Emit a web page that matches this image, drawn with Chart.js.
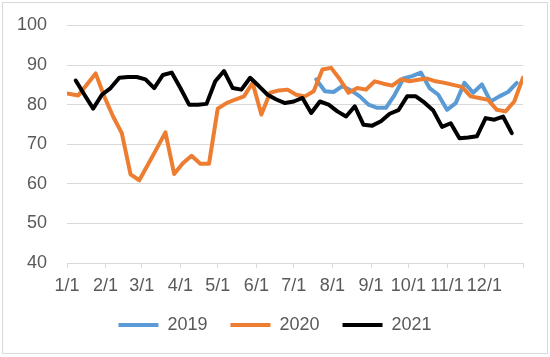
<!DOCTYPE html>
<html>
<head>
<meta charset="utf-8">
<script src="https://cdn.jsdelivr.net/npm/chart.js@4/dist/chart.umd.min.js"></script>
<style>
  html, body { margin: 0; padding: 0; background: #ffffff; }
  #wrap { position: relative; width: 550px; height: 357px; }
  #c { position: absolute; left: 0; top: 0; }
  #frame { position: absolute; left: 2px; top: 2px; width: 544px; height: 350px; border: 1px solid #d9d9d9; pointer-events: none; }
</style>
</head>
<body>
<div id="wrap">
  <canvas id="c" width="550" height="357"></canvas>
  <div id="frame"></div>
</div>
<script>
// Month tick positions (day of year, leap-year date axis) and their labels
const monthStartDays = [0, 31, 60, 91, 121, 152, 182, 213, 244, 274, 305, 335, 366];
const monthLabels = ['1/1', '2/1', '3/1', '4/1', '5/1', '6/1', '7/1', '8/1', '9/1', '10/1', '11/1', '12/1'];

// 2019 series (weekly, from late July)
const days2019 = [200, 207, 214, 221, 228, 235, 242, 249, 256, 263, 270, 277, 284, 291, 298, 305, 312, 319, 326, 333, 340, 347, 354, 361];
const values2019 = [86.4, 83.4, 83.2, 84.7, 83.6, 82.1, 80.0, 79.2, 79.2, 82.5, 86.6, 87.2, 88.1, 84.2, 82.5, 78.7, 80.4, 85.5, 83.0, 85.1, 80.8, 82.1, 83.2, 85.5];

// 2020 series (weekly)
const days2020 = [0, 9, 16, 23, 30, 37, 44, 51, 58, 65, 72, 79, 86, 93, 100, 107, 114, 121, 128, 135, 142, 149, 156, 163, 170, 177, 184, 191, 198, 205, 212, 219, 226, 233, 240, 247, 254, 261, 268, 275, 282, 289, 296, 303, 310, 317, 324, 331, 338, 345, 352, 359, 366];
const values2020 = [82.8, 82.3, 85.1, 87.9, 82.0, 77.0, 72.8, 62.4, 60.9, 64.9, 68.9, 73.0, 62.5, 65.2, 67.1, 65.1, 65.1, 79.0, 80.4, 81.3, 82.1, 85.5, 77.5, 83.0, 83.6, 83.8, 82.5, 82.1, 83.4, 88.9, 89.3, 86.4, 83.0, 84.2, 83.8, 85.9, 85.3, 84.8, 86.4, 85.9, 86.3, 86.6, 85.9, 85.5, 85.0, 84.5, 82.1, 81.7, 81.2, 78.7, 78.3, 80.8, 86.8];

// 2021 series (weekly)
const days2021 = [7, 14, 21, 28, 35, 42, 49, 56, 63, 70, 77, 84, 91, 98, 105, 112, 119, 126, 133, 140, 147, 154, 161, 168, 175, 182, 189, 196, 203, 210, 217, 224, 231, 238, 245, 252, 259, 266, 273, 280, 287, 294, 301, 308, 315, 322, 329, 336, 343, 350, 357];
const values2021 = [86.1, 82.5, 79.0, 82.5, 84.2, 86.8, 87.0, 87.0, 86.4, 84.2, 87.5, 88.1, 84.2, 80.0, 80.0, 80.2, 85.9, 88.5, 84.2, 83.8, 86.8, 84.7, 82.5, 81.3, 80.4, 80.8, 81.7, 77.9, 80.8, 80.0, 78.3, 77.0, 79.6, 74.9, 74.7, 75.8, 77.7, 78.6, 82.1, 82.1, 80.5, 78.5, 74.4, 75.3, 71.5, 71.7, 72.0, 76.6, 76.2, 77.0, 72.8];

const seriesNames = ['2019', '2020', '2021'];
const seriesColors = ['#5B9BD5', '#ED7D31', '#000000'];

function toPoints(days, vals) { return days.map((d, i) => ({ x: d, y: vals[i] })); }

const FONT = { family: '"Liberation Sans", Arial, sans-serif', size: 18 };
const TEXT_COLOR = '#595959';
const GRID = '#d9d9d9';

const dataSets = [
  [days2019, values2019],
  [days2020, values2020],
  [days2021, values2021]
].map((s, i) => ({
  label: seriesNames[i],
  data: toPoints(s[0], s[1]),
  borderColor: seriesColors[i],
  backgroundColor: seriesColors[i],
  borderWidth: 4,
  pointRadius: 0,
  pointHoverRadius: 0,
  pointStyle: 'line',
  tension: 0,
  borderJoinStyle: 'round',
  borderCapStyle: 'round',
  order: 3 - i
}));

new Chart(document.getElementById('c'), {
  type: 'line',
  data: { datasets: dataSets },
  options: {
    responsive: false,
    animation: false,
    events: [],
    layout: { padding: { left: 0, right: 0, top: 25.5, bottom: 13 } },
    scales: {
      x: {
        type: 'linear',
        min: 0,
        max: 366,
        afterFit: (s) => { s.height = 30; s.paddingRight = 27; s.paddingLeft = 0; },
        afterBuildTicks: (s) => { s.ticks = monthStartDays.map(v => ({ value: v })); },
        ticks: {
          autoSkip: false,
          maxRotation: 0,
          minRotation: 0,
          padding: 7,
          color: TEXT_COLOR,
          font: FONT,
          callback: (v, i) => (i < monthLabels.length ? monthLabels[i] : '')
        },
        grid: { drawOnChartArea: false, drawTicks: true, tickLength: 5, color: GRID, lineWidth: 1 },
        border: { display: true, color: GRID, width: 1 }
      },
      y: {
        min: 40,
        max: 100,
        afterFit: (s) => { s.width = 67; s.paddingTop = 0; s.paddingBottom = 0; },
        ticks: { stepSize: 10, padding: 20, color: TEXT_COLOR, font: FONT },
        grid: { color: GRID, lineWidth: 1, drawTicks: false },
        border: { display: false }
      }
    },
    plugins: {
      tooltip: { enabled: false },
      legend: {
        position: 'bottom',
        labels: {
          usePointStyle: true,
          pointStyle: 'line',
          pointStyleWidth: 40,
          padding: 23,
          color: TEXT_COLOR,
          font: FONT,
          sort: (a, b) => a.datasetIndex - b.datasetIndex
        }
      }
    }
  }
});
</script>
</body>
</html>
